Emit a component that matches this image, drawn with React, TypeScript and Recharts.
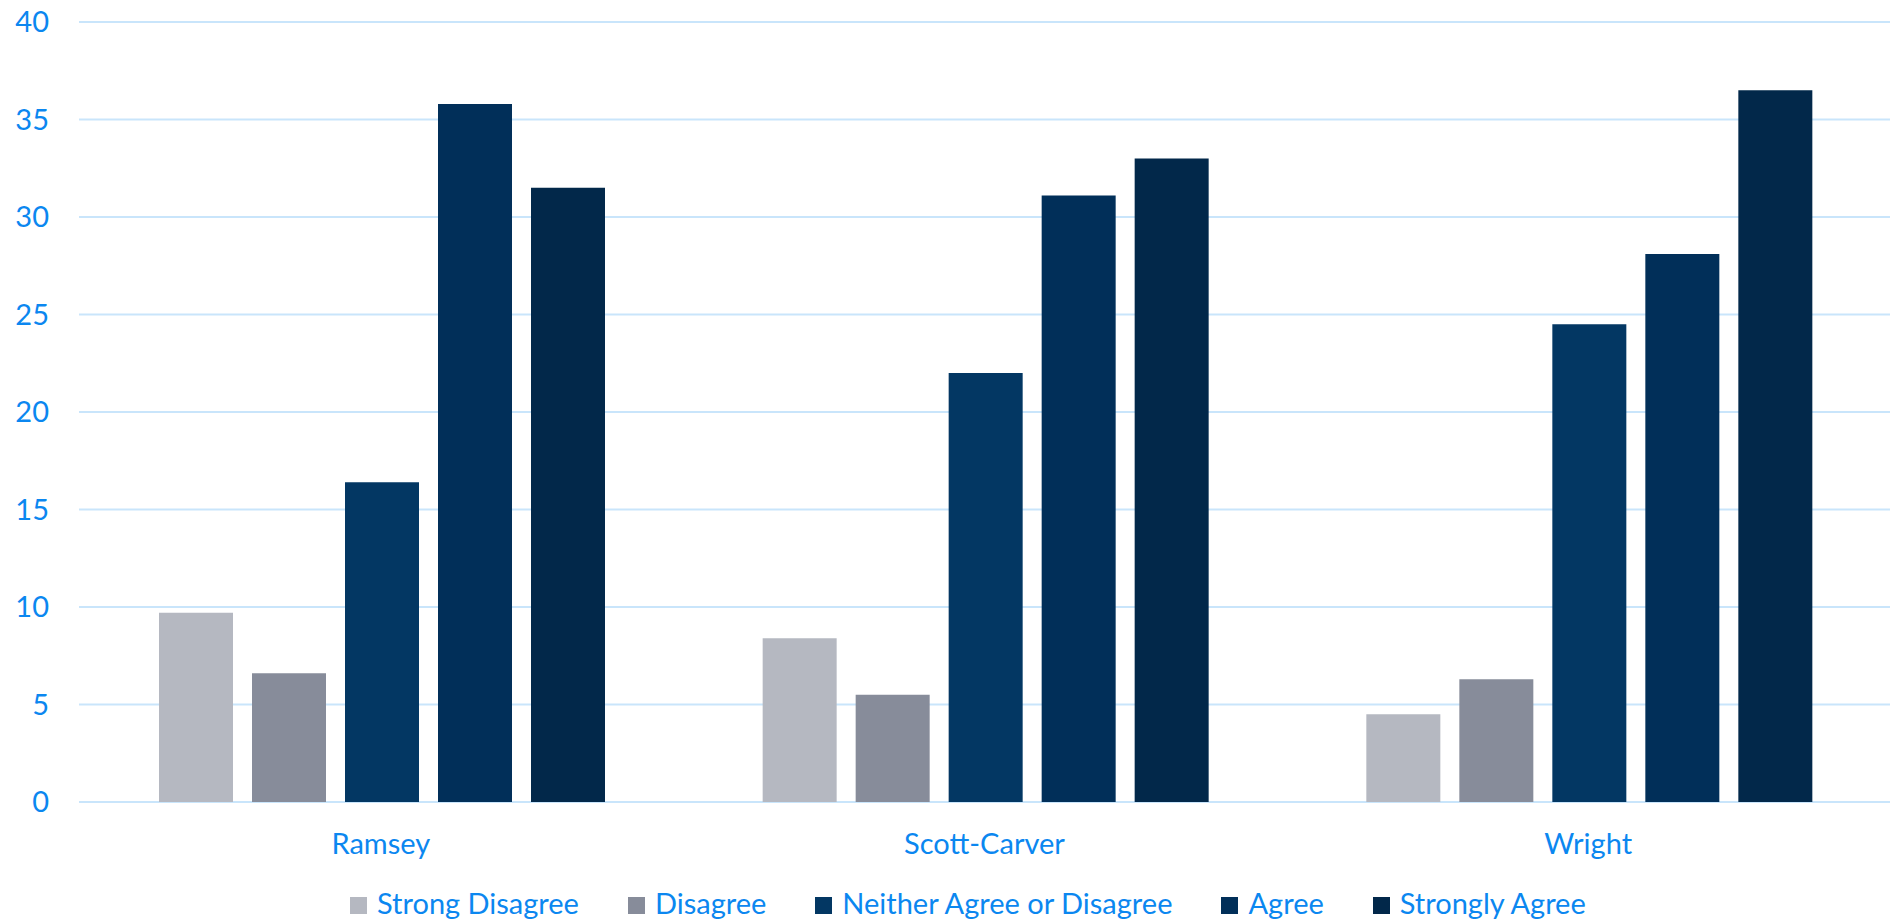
import { BarChart, Bar, XAxis, YAxis, CartesianGrid, Legend } from "recharts";

const schools = ["Ramsey", "Scott-Carver", "Wright"];
const strongDisagree = [9.7, 8.4, 4.5];
const disagree = [6.6, 5.5, 6.3];
const neither = [16.4, 22.0, 24.5];
const agree = [35.8, 31.1, 28.1];
const stronglyAgree = [31.5, 33.0, 36.5];
const yTicks = [0, 5, 10, 15, 20, 25, 30, 35, 40];

const series = [
  { key: "strongDisagree", name: "Strong Disagree", color: "#B5B8C1", values: strongDisagree },
  { key: "disagree", name: "Disagree", color: "#878C9A", values: disagree },
  { key: "neither", name: "Neither Agree or Disagree", color: "#033763", values: neither },
  { key: "agree", name: "Agree", color: "#012F59", values: agree },
  { key: "stronglyAgree", name: "Strongly Agree", color: "#02284A", values: stronglyAgree },
];

const data = schools.map((school, i) => {
  const row: Record<string, string | number> = { school };
  series.forEach((s) => {
    row[s.key] = s.values[i];
  });
  return row;
});

const textColor = "#0B87F0";
const fontFamily = "Lato, 'Open Sans', sans-serif";

function LegendContent() {
  return (
    <div
      style={{
        boxSizing: "border-box",
        height: 50,
        paddingTop: 12,
        paddingLeft: 350,
        display: "flex",
        alignItems: "flex-start",
        fontFamily,
        fontSize: 29,
        color: textColor,
      }}
    >
      {series.map((s) => (
        <div
          key={s.key}
          style={{ display: "flex", alignItems: "center", height: 35, marginRight: 49, whiteSpace: "nowrap" }}
        >
          <span
            style={{
              display: "inline-block",
              width: 17,
              height: 17,
              background: s.color,
              marginRight: 10,
              position: "relative",
              top: 3,
            }}
          />
          <span>{s.name}</span>
        </div>
      ))}
    </div>
  );
}

export default function App() {
  return (
    <div style={{ position: "fixed", left: 0, top: 0, width: 1890, height: 923, background: "#fff" }}>
      <BarChart
        width={1890}
        height={923}
        data={data}
        margin={{ top: 22, right: 0, left: 0, bottom: 0 }}
        barCategoryGap={80}
        barGap={19}
      >
        <CartesianGrid horizontal vertical={false} stroke="#C9E5FB" strokeWidth={2} />
        <XAxis
          dataKey="school"
          height={71}
          axisLine={false}
          tickLine={false}
          tickSize={0}
          tickMargin={31}
          tick={{ fill: textColor, fontSize: 29, fontFamily }}
        />
        <YAxis
          width={79}
          domain={[0, 40]}
          ticks={yTicks}
          axisLine={false}
          tickLine={false}
          tickSize={0}
          tickMargin={30}
          tick={{ fill: textColor, fontSize: 29, fontFamily }}
        />
        <Legend
          verticalAlign="bottom"
          content={() => <LegendContent />}
          wrapperStyle={{ left: 0, width: 1890, bottom: 0, height: 50 }}
        />
        {series.map((s) => (
          <Bar key={s.key} dataKey={s.key} name={s.name} fill={s.color} isAnimationActive={false} />
        ))}
      </BarChart>
    </div>
  );
}
